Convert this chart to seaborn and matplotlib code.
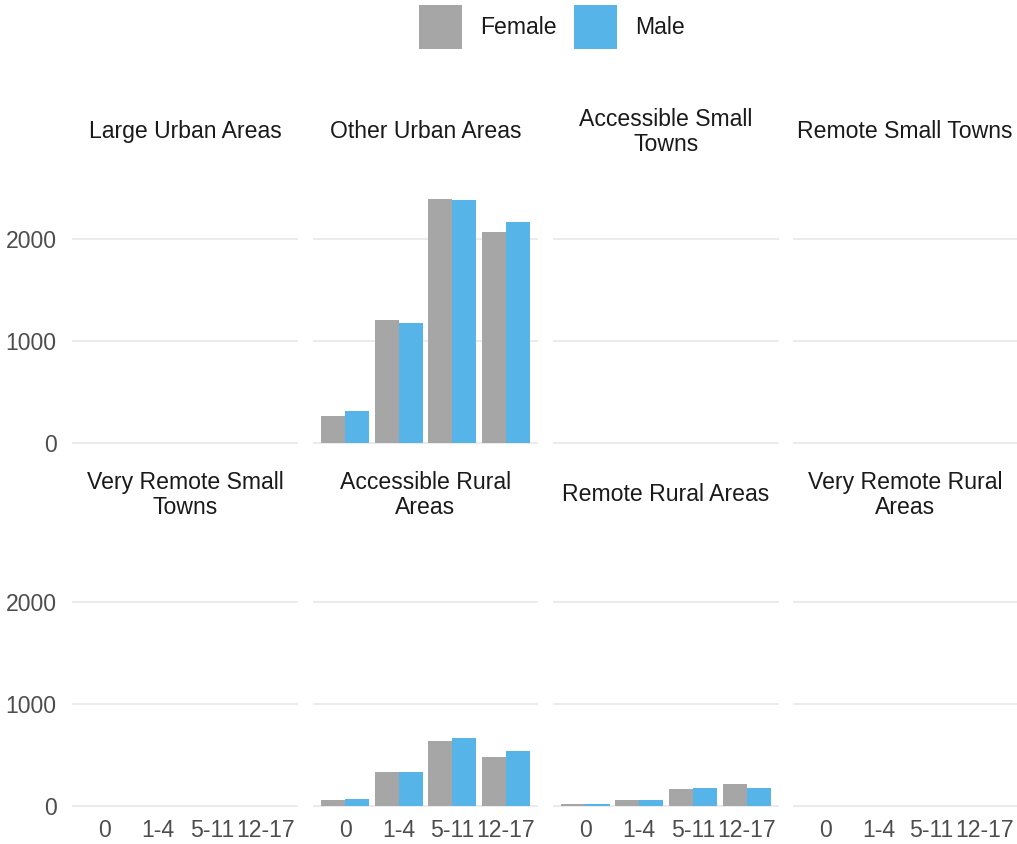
import textwrap
import matplotlib
matplotlib.use("Agg")
import matplotlib.pyplot as plt
from matplotlib.patches import Patch
import pandas as pd
import seaborn as sns

regions = ["Large Urban Areas", "Other Urban Areas", "Accessible Small Towns",
           "Remote Small Towns", "Very Remote Small Towns", "Accessible Rural Areas",
           "Remote Rural Areas", "Very Remote Rural Areas"]
ages = ["0", "1-4", "5-11", "12-17"]
sexes = ["Female", "Male"]

female = {
    "Large Urban Areas": [0, 0, 0, 0],
    "Other Urban Areas": [263, 1204, 2389, 2063],
    "Accessible Small Towns": [0, 0, 0, 0],
    "Remote Small Towns": [0, 0, 0, 0],
    "Very Remote Small Towns": [0, 0, 0, 0],
    "Accessible Rural Areas": [59, 332, 631, 483],
    "Remote Rural Areas": [13, 59, 161, 210],
    "Very Remote Rural Areas": [0, 0, 0, 0],
}
male = {
    "Large Urban Areas": [0, 0, 0, 0],
    "Other Urban Areas": [312, 1178, 2379, 2165],
    "Accessible Small Towns": [0, 0, 0, 0],
    "Remote Small Towns": [0, 0, 0, 0],
    "Very Remote Small Towns": [0, 0, 0, 0],
    "Accessible Rural Areas": [62, 332, 664, 542],
    "Remote Rural Areas": [13, 59, 174, 178],
    "Very Remote Rural Areas": [0, 0, 0, 0],
}
colors = {"Female": "#A6A6A6", "Male": "#56B4E9"}
yticks = [0, 1000, 2000]

rows = []
for r in regions:
    for a, f, m in zip(ages, female[r], male[r]):
        rows.append({"region": r, "age": a, "sex": "Female", "n": f})
        rows.append({"region": r, "age": a, "sex": "Male", "n": m})
df = pd.DataFrame(rows)

sns.set_theme(style="white")
plt.rcParams["font.family"] = ["Liberation Sans", "DejaVu Sans"]

FS = 16.6
W, H = 1017, 844
fig = plt.figure(figsize=(W / 100, H / 100), dpi=100)

xs = [(72, 298), (313, 538), (553, 779), (793, 1017)]
ys = [(187, 455), (550, 818)]

ymax = df["n"].max()
ylo, yhi = -0.05 * ymax, 1.05 * ymax

for i, r in enumerate(regions):
    row, col = divmod(i, 4)
    x0, x1 = xs[col]
    y0, y1 = ys[row]
    ax = fig.add_axes([x0 / W, 1 - y1 / H, (x1 - x0) / W, (y1 - y0) / H])
    sub = df[df["region"] == r]
    sns.barplot(data=sub, x="age", y="n", hue="sex", order=ages, hue_order=sexes,
                palette=colors, width=0.9, saturation=1, linewidth=0,
                legend=False, ax=ax, errorbar=None)
    ax.set_xlim(-0.6, 3.6)
    ax.set_ylim(ylo, yhi)
    ax.set_yticks(yticks)
    for t in yticks:
        ax.axhline(t, color="#EBEBEB", lw=1.4, zorder=0)
    ax.set_axisbelow(True)
    for s in ax.spines.values():
        s.set_visible(False)
    ax.set_xlabel("")
    ax.set_ylabel("")
    ax.tick_params(axis="both", length=0, labelsize=FS, colors="#4D4D4D")
    ax.tick_params(axis="x", pad=1)
    ax.tick_params(axis="y", pad=11)
    if col != 0:
        ax.set_yticklabels([])
    if row != 1:
        ax.set_xticklabels([])
    ax.text(0.5, 1 + 55 / (y1 - y0), textwrap.fill(r, 18), transform=ax.transAxes,
            ha="center", va="center", fontsize=FS, color="#1A1A1A", linespacing=1.12)

handles = [Patch(facecolor=colors[s], edgecolor="none", label=s) for s in sexes]
fig.legend(handles=handles, loc="center", bbox_to_anchor=(552 / W, 1 - 27 / H),
           ncol=2, frameon=False, fontsize=FS, handlelength=1.87, handleheight=2.5,
           handletextpad=0.8, columnspacing=0.72, borderpad=0, labelcolor="#1A1A1A")

fig.savefig("out.png", dpi=100)
